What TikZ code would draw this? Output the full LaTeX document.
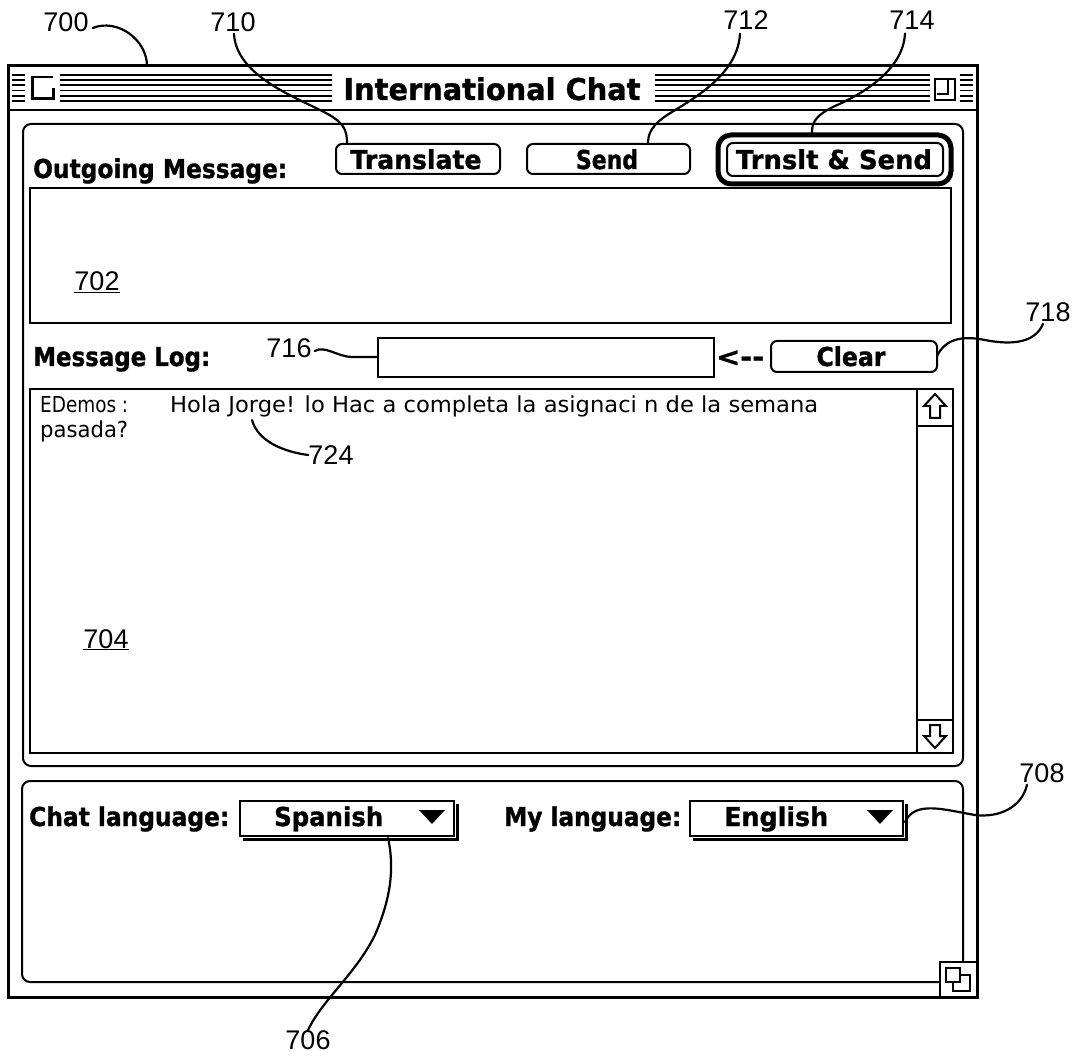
\documentclass[tikz,border=0pt]{standalone}
\usepackage{fontspec}
\usepackage{graphicx}
\setmainfont{DejaVu Sans}
\newfontfamily\uifont{DejaVu Sans}[BoldFeatures={FakeBold=1.2}]
\newfontfamily\lblfont{Liberation Sans}
\newcommand\wfit[2]{\resizebox{#1pt}{\height}{#2}}
\tikzset{
  ui/.style={inner sep=0pt, font=\uifont\fontsize{26}{26}\selectfont\bfseries},
  logtxt/.style={inner sep=0pt, anchor=base west, font=\fontsize{22}{22}\selectfont},
  lbl/.style={inner sep=0pt, font=\lblfont\fontsize{27}{27}\selectfont},
  leader/.style={line width=2.2pt, line cap=round},
  frame/.style={line width=2.5pt},
  btn/.style={line width=2pt, rounded corners=6pt},
  panel/.style={line width=2pt, rounded corners=8pt},
  stripe/.style={line width=1.8pt},
}
\begin{document}
\begin{tikzpicture}[x=1pt,y=-1pt]
\useasboundingbox (0,0) rectangle (1080,1056);
% window
\draw[line width=3pt] (8,66) rectangle (977,997);
\draw[line width=2.5pt] (8,110) -- (977,110);
\foreach \yy in {75,80.2,85.4,90.6,95.8,101} {
  \draw[stripe] (12,\yy) -- (25,\yy);
  \draw[stripe] (60,\yy) -- (332,\yy);
  \draw[stripe] (655,\yy) -- (930,\yy);
  \draw[stripe] (960,\yy) -- (973,\yy);
}
\draw[line width=1.5pt] (31,77) -- (53,77);
\draw[line width=3pt] (32,77) -- (32,99) -- (53,99) -- (53,88);
\draw[line width=2.2pt] (935,79) rectangle (955,100);
\draw[line width=2pt] (937,94) -- (948,94) -- (948,79);
\node[inner sep=0pt, anchor=base, font=\uifont\fontsize{30}{30}\selectfont\bfseries] (title) at (492,100) {\wfit{297}{International Chat}};
% panels
\draw[panel] (23,124) rectangle (963,766);
\draw[panel] (22,781) rectangle (963,982);
% buttons
\draw[btn] (336,144) rectangle (500,174);
\draw[btn] (527,144) rectangle (690,174);
\draw[line width=5pt, rounded corners=13pt] (718,135) rectangle (951,184);
\draw[btn] (727,143) rectangle (943,176);
\node[ui, anchor=base] (btrans) at (416,169) {\wfit{131}{Translate}};
\node[ui, anchor=base] (bsend) at (607,169) {\wfit{62}{Send}};
\node[ui, anchor=base] (btsend) at (834,169) {\wfit{196}{Trnslt \& Send}};
\node[ui, anchor=base west] (outlbl) at (33,178) {\wfit{254}{Outgoing Message:}};
% outgoing area
\draw[frame] (30,188) rectangle (951,323);
\node[lbl, anchor=base] (n702) at (97,291) {\underline{702}};
% message log row
\node[ui, anchor=base west] (loglbl) at (33,366) {\wfit{177}{Message Log:}};
\draw[frame] (378,338) rectangle (714,377);
\node[ui, anchor=base west] (arr) at (716,366) {\wfit{48}{<-{}-}};
\draw[btn] (771,341) rectangle (937,372);
\node[ui, anchor=base] (bclear) at (851,366) {\wfit{69}{Clear}};
% log area
\draw[frame] (30,389) rectangle (953,753);
\draw[line width=2.2pt] (917,389) -- (917,753);
\draw[line width=2.2pt] (917,426) -- (953,426);
\draw[line width=2.2pt] (917,720) -- (953,720);
\draw[line width=2pt, line join=miter] (935,394) -- (946,406) -- (940,406) -- (940,418) -- (930,418) -- (930,406) -- (924,406) -- cycle;
\draw[line width=2pt, line join=miter] (930,725) -- (940,725) -- (940,736) -- (946,736) -- (935,748) -- (924,736) -- (930,736) -- cycle;
\node[logtxt] (t1a) at (40,413) {\wfit{88}{EDemos :}};
\node[logtxt] (t1b) at (170,413) {\wfit{648}{Hola Jorge! lo Hac a completa la asignaci n de la semana}};
\node[logtxt] (t2) at (40,438) {\wfit{88}{pasada?}};
\node[lbl, anchor=base] (n704) at (106,648) {\underline{704}};
% bottom panel
\node[ui, anchor=base west] (chatlbl) at (29,826) {\wfit{200}{Chat language:}};
\draw[line width=3pt] (457,804) -- (457,839) -- (243,839);
\draw[line width=2pt, fill=white] (240,801) rectangle (454,836);
\node[ui, anchor=base west] (spanish) at (274,826) {\wfit{109}{Spanish}};
\fill (419,810) -- (445,810) -- (432,824) -- cycle;
\node[ui, anchor=base west] (mylbl) at (504,826) {\wfit{177}{My language:}};
\draw[line width=3pt] (906,804) -- (906,839) -- (693,839);
\draw[line width=2pt, fill=white] (690,801) rectangle (903,836);
\node[ui, anchor=base west] (english) at (724,826) {\wfit{104}{English}};
\fill (867,810) -- (893,810) -- (880,824) -- cycle;
% grow box
\draw[line width=2.5pt, fill=white] (940,962) rectangle (977,997);
\draw[line width=2pt] (946,968) rectangle (960,982);
\draw[line width=2pt] (960,975) -- (970,975) -- (970,991) -- (953,991) -- (953,982);
% reference labels
\node[lbl] (n700) at (66,22) {700};
\node[lbl] (n710) at (233,22) {710};
\node[lbl] (n712) at (746,20) {712};
\node[lbl] (n714) at (912,20) {714};
\node[lbl] (n716) at (289,348) {716};
\node[lbl] (n718) at (1048,312) {718};
\node[lbl] (n724) at (331,455) {724};
\node[lbl] (n708) at (1042,773) {708};
\node[lbl] (n706) at (308,1040) {706};
% leader end points
\coordinate (e700) at (147,66);
\coordinate (e710) at (347,144);
\coordinate (e712) at (648,144);
\coordinate (e714) at (812,134);
\coordinate (e716) at (378,357);
\coordinate (e718) at (937,356);
\coordinate (e724) at (252,420);
\coordinate (e708) at (905,822);
\coordinate (e706) at (388,838);
\draw[leader] (n700.east) ++(4,6) .. controls +(25,-10) and (147,40) .. (e700);
\draw[leader] (n710.south) ++(1,2) .. controls +(2,40) and (290,95) .. (320,110) .. controls (345,122) and (347,130) .. (e710);
\draw[leader] (n712.south) ++(-6,4) .. controls +(-2,38) and (700,95) .. (672,112) .. controls (650,125) and (648,135) .. (e712);
\draw[leader] (n714.south) ++(-7,4) .. controls +(-2,38) and (860,95) .. (835,106) .. controls (812,117) and (812,125) .. (e714);
\draw[leader] (n716.east) ++(3,3) .. controls +(10,-6) and (338,357) .. (352,357) -- (e716);
\draw[leader] (n718.south) ++(-5,2) .. controls +(-8,20) and (1010,345) .. (985,340) .. controls (960,335) and (945,340) .. (e718);
\draw[leader] (e724) .. controls (258,442) and (285,452) .. (n724.west);
\draw[leader] (n708.south) ++(-15,2) .. controls +(-5,22) and (1000,818) .. (975,815) .. controls (945,810) and (915,800) .. (e708);
\draw[leader] (e706) .. controls (395,870) and (390,900) .. (375,935) .. controls (355,975) and (322,1000) .. (n706.north);
\end{tikzpicture}
\end{document}
